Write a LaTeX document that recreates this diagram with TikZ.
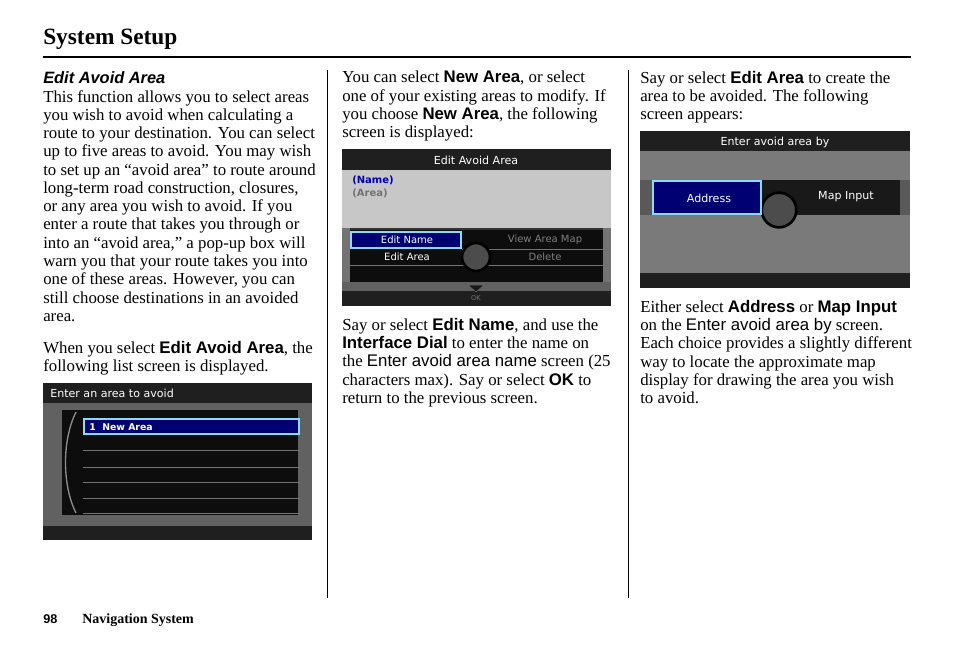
\documentclass[tikz,border=0pt]{standalone}
\usepackage{fontspec}
\setmainfont{Liberation Serif}
\newfontfamily\uisans{Liberation Sans}
\newfontfamily\scrfont{DejaVu Sans}
\colorlet{screen_dark}{black!88}
\colorlet{screen_mid}{black!62}
\colorlet{screen_light}{black!22}
\colorlet{screen_hl}{blue!45!black}
\colorlet{screen_edge}{cyan!45!white}
\newcommand{\ui}[1]{{\uisans\bfseries #1}}
\newcommand{\uin}[1]{{\uisans #1}}
\tikzset{
  para/.style={anchor=north west, inner sep=0pt, align=left,
    font=\fontsize{12.6pt}{13.7pt}\selectfont},
  scrtxt/.style={inner sep=0pt, text=white, font=\scrfont\fontsize{8.3pt}{9pt}\selectfont},
  knob/.style={circle, fill=black!70, draw=black, line width=2pt},
}
\begin{document}
\begin{tikzpicture}[x=0.75pt, y=-0.75pt]
    \useasboundingbox (0,0) rectangle (954,651);

    % header
    \node[anchor=base west, inner sep=0pt, font=\fontsize{17.5pt}{20pt}\selectfont\bfseries]
      (title) at (43,44) {System Setup};
    \draw[line width=1.2pt] (43,57) -- (911,57);
    \draw[line width=0.6pt] (327,70) -- (327,598);
    \draw[line width=0.6pt] (628,70) -- (628,598);

    % column 1
    \node[anchor=base west, inner sep=0pt, font=\uisans\bfseries\itshape\fontsize{12.3pt}{13pt}\selectfont]
      (head1) at (43,83) {Edit Avoid Area};
    \node[para] (p11) at (43,90)
      {This function allows you to select areas\\
       you wish to avoid when calculating a\\
       route to your destination. You can select\\
       up to five areas to avoid. You may wish\\
       to set up an ``avoid area'' to route around\\
       long-term road construction, closures,\\
       or any area you wish to avoid. If you\\
       enter a route that takes you through or\\
       into an ``avoid area,'' a pop-up box will\\
       warn you that your route takes you into\\
       one of these areas. However, you can\\
       still choose destinations in an avoided\\
       area.};
    \node[para] (p12) at (43,341)
      {When you select \ui{Edit Avoid Area}, the\\
       following list screen is displayed.};

    % screen 1
    \fill[screen_dark] (43,383) rectangle (312,540);
    \fill[screen_mid] (43,403) rectangle (312,410);
    \fill[screen_mid] (43,515) rectangle (312,526);
    \fill[screen_mid] (43,410) rectangle (62,515);
    \fill[screen_mid] (298,410) rectangle (312,515);
    \fill[black!95] (62,410) rectangle (298,515);
    \draw[black!45, line width=1pt] (76,412) .. controls (62,440) and (62,485) .. (76,513);
    \foreach \yy in {450,467,482,498,513}
      \draw[black!55, line width=0.5pt] (83,\yy) -- (300,\yy);
    \fill[screen_hl] (84,419) rectangle (299,434);
    \draw[screen_edge, line width=1.2pt] (84,419) rectangle (299,434);
    \node[scrtxt, anchor=west] (s1t) at (50,393) {Enter an area to avoid};
    \node[scrtxt, anchor=west, font=\scrfont\bfseries\fontsize{7pt}{8pt}\selectfont]
      (s1r) at (89,427) {1\ \ New Area};

    % column 2
    \node[para] (p21) at (342,71)
      {You can select \ui{New Area}, or select\\
       one of your existing areas to modify. If\\
       you choose \ui{New Area}, the following\\
       screen is displayed:};

    % screen 2
    \fill[screen_dark] (342,149) rectangle (611,306);
    \fill[screen_light] (342,170) rectangle (611,228);
    \fill[black!80] (342,228) rectangle (611,282);
    \fill[black!55] (342,228) rectangle (350,282);
    \fill[black!55] (603,228) rectangle (611,282);
    \fill[black!95] (350,230) rectangle (603,282);
    \draw[black!55, line width=0.5pt] (462,249) -- (603,249) (350,265) -- (603,265);
    \fill[screen_mid] (342,282) rectangle (611,291);
    \fill[screen_hl] (351,232) rectangle (461,248);
    \draw[screen_edge, line width=1.2pt] (351,232) rectangle (461,248);
    \node[knob, minimum size=21pt] (s2k) at (476,257) {};
    \draw[black!60, fill=black!90] (468,285) -- (484,285) -- (476,292) -- cycle;
    \node[scrtxt] (s2t) at (476,160) {Edit Avoid Area};
    \node[scrtxt, anchor=west, text=blue!70!black, font=\scrfont\bfseries\fontsize{7.5pt}{8pt}\selectfont]
      (s2n) at (352,180) {(Name)};
    \node[scrtxt, anchor=west, text=black!55, font=\scrfont\bfseries\fontsize{7.5pt}{8pt}\selectfont]
      (s2a) at (352,193) {(Area)};
    \node[scrtxt, font=\scrfont\fontsize{7.5pt}{8pt}\selectfont] (s2e) at (407,240) {Edit Name};
    \node[scrtxt, font=\scrfont\fontsize{7.5pt}{8pt}\selectfont] (s2f) at (407,257) {Edit Area};
    \node[scrtxt, text=black!50, font=\scrfont\fontsize{7.5pt}{8pt}\selectfont] (s2v) at (545,240) {View Area Map};
    \node[scrtxt, text=black!50, font=\scrfont\fontsize{7.5pt}{8pt}\selectfont] (s2d) at (545,257) {Delete};
    \node[scrtxt, text=black!55, font=\scrfont\fontsize{5pt}{6pt}\selectfont] (s2o) at (476,298) {OK};

    \node[para] (p22) at (342,318)
      {Say or select \ui{Edit Name}, and use the\\
       \ui{Interface Dial} to enter the name on\\
       the \uin{Enter avoid area name} screen (25\\
       characters max). Say or select \ui{OK} to\\
       return to the previous screen.};

    % column 3
    \node[para] (p31) at (640,71)
      {Say or select \ui{Edit Area} to create the\\
       area to be avoided. The following\\
       screen appears:};

    % screen 3
    \fill[screen_dark] (640,131) rectangle (910,288);
    \fill[black!52] (640,151) rectangle (910,273);
    \fill[black!90] (652,180) rectangle (900,215);
    \fill[black!65] (640,180) rectangle (652,215);
    \fill[black!65] (900,180) rectangle (910,215);
    \node[knob, minimum size=26pt] (s3k) at (779,210) {};
    \fill[screen_hl] (653,181) rectangle (761,214);
    \draw[screen_edge, line width=1.2pt] (653,181) rectangle (761,214);
    \node[scrtxt] (s3t) at (775,142) {Enter avoid area by};
    \node[scrtxt] (s3a) at (709,198) {Address};
    \node[scrtxt] (s3m) at (846,197) {Map Input};

    \node[para] (p32) at (640,300)
      {Either select \ui{Address} or \ui{Map Input}\\
       on the \uin{Enter avoid area by} screen.\\
       Each choice provides a slightly different\\
       way to locate the approximate map\\
       display for drawing the area you wish\\
       to avoid.};

    % footer
    \node[anchor=base west, inner sep=0pt, font=\uisans\bfseries\fontsize{9.5pt}{11pt}\selectfont]
      (pgno) at (43,623) {98};
    \node[anchor=base west, inner sep=0pt, font=\bfseries\fontsize{10.5pt}{11pt}\selectfont]
      (foot) at (82,623) {Navigation System};
  \end{tikzpicture}
\end{document}
